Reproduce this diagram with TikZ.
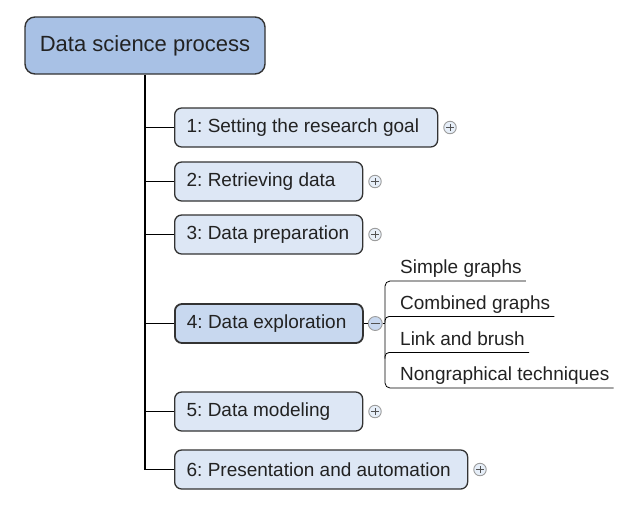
\documentclass[tikz,border=0pt]{standalone}
\usepackage{fontspec}
\setmainfont{Liberation Sans}
\usetikzlibrary{positioning}
\definecolor{rootblue}{HTML}{A8C1E5}
\definecolor{stepblue}{HTML}{DDE7F5}
\definecolor{openblue}{HTML}{C8D8EF}
\definecolor{knobfill}{HTML}{E6EEF8}
\definecolor{edgegray}{HTML}{333333}
\definecolor{textgray}{HTML}{222222}
\definecolor{knobgray}{HTML}{9C9C9C}
\frenchspacing

\begin{document}
\begin{tikzpicture}[x=1pt,y=-1pt,
	rootbox/.style={draw=edgegray,line width=1.4pt,fill=rootblue,rounded corners=10pt,minimum width=240pt,minimum height=57pt,text=textgray,font=\fontsize{22}{26}\selectfont},
	stepbox/.style={draw=edgegray,line width=1.3pt,fill=stepblue,rounded corners=7pt,anchor=west,text width=164pt,align=flush left,inner xsep=12pt,minimum height=39pt,text=textgray,font=\fontsize{19}{22}\selectfont},
	leaf/.style={anchor=base west,inner xsep=4pt,inner ysep=0pt,text=textgray,font=\fontsize{19}{22}\selectfont},
	knob/.style={circle,draw=knobgray,fill=knobfill,line width=0.9pt,minimum size=12.5pt,inner sep=0pt},
	plus/.style={knob,path picture={
		\draw[edgegray!85,line width=1pt] ([xshift=-3.6pt]path picture bounding box.center) -- ([xshift=3.6pt]path picture bounding box.center);
		\draw[edgegray!85,line width=1pt] ([yshift=-3.6pt]path picture bounding box.center) -- ([yshift=3.6pt]path picture bounding box.center);}},
	minus/.style={knob,fill=openblue,minimum size=14pt,path picture={
		\draw[edgegray!85,line width=1pt] ([xshift=-4.5pt]path picture bounding box.center) -- ([xshift=4.5pt]path picture bounding box.center);}},
	link/.style={draw=black,line width=1.1pt}
	]
	\useasboundingbox (0,0) rectangle (629,507);
	% root and the six steps
	\node[rootbox] (root) at (145,45.5) {Data science process};
	\node[stepbox,text width=239pt] (c1) at (174,127.5) {1: Setting the research goal};
	\node[stepbox] (c2) at (174,181.5) {2: Retrieving data};
	\node[stepbox] (c3) at (174,234.5) {3: Data preparation};
	\node[stepbox,fill=openblue,line width=1.8pt] (c4) at (174,323.5) {4: Data exploration};
	\node[stepbox] (c5) at (174,411.5) {5: Data modeling};
	\node[stepbox,text width=269pt] (c6) at (174,469.5) {6: Presentation and automation};
	% expand / collapse knobs
	\node[plus,right=5pt of c1] (p1) {};
	\node[plus,right=5pt of c2] (p2) {};
	\node[plus,right=5pt of c3] (p3) {};
	\node[minus,right=4pt of c4] (m4) {};
	\node[plus,right=5pt of c5] (p5) {};
	\node[plus,right=5pt of c6] (p6) {};
	% trunk
	\draw[link] (root) |- (c6);
	\foreach \s in {c1,c2,c3,c4,c5}
		\draw[link] (root.south |- \s) -- (\s);
	% sub items of step 4
	\coordinate (b1) at (385,281);
	\coordinate (b2) at (385,316.5);
	\coordinate (b3) at (385,352.5);
	\coordinate (b4) at (385,388);
	\node[leaf] (s1) at (396,273) {Simple graphs};
	\node[leaf] (s2) at (396,309) {Combined graphs};
	\node[leaf] (s3) at (396,345) {Link and brush};
	\node[leaf] (s4) at (396,380.5) {Nongraphical techniques};
	\draw[line width=0.8pt] (c4) -- (m4);
	\draw[line width=0.8pt] (m4) -- (m4 -| b1);
	\draw[line width=0.8pt,rounded corners=5pt] (s1.base east |- b1) -- (b1) -- (b4) -- (s4.base east |- b4);
	\draw[line width=0.8pt,rounded corners=4pt] (b2) ++(0,6) -- (b2) -- (s2.base east |- b2);
	\draw[line width=0.8pt,rounded corners=4pt] (b3) ++(0,6) -- (b3) -- (s3.base east |- b3);
\end{tikzpicture}
\end{document}
